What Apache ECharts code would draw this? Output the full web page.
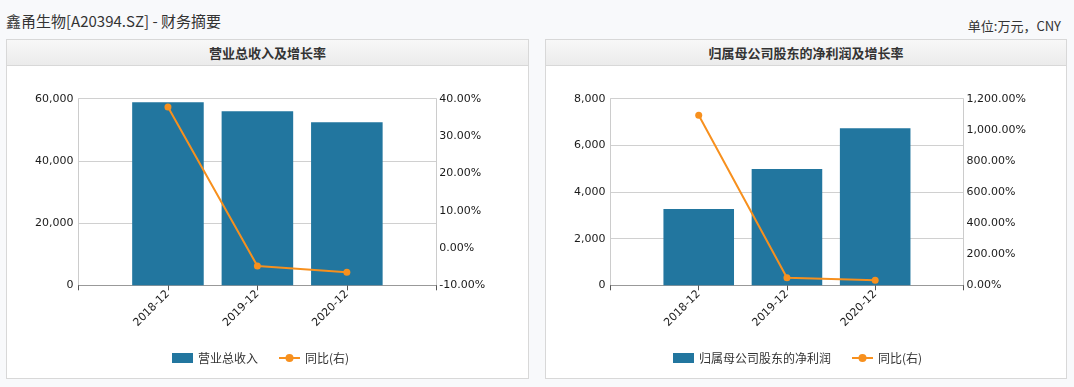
<!DOCTYPE html>
<html>
<head>
<meta charset="utf-8">
<script src="https://cdn.jsdelivr.net/npm/echarts@6/dist/echarts.min.js"></script>
<style>
  html, body { margin:0; padding:0; width:1074px; height:387px; background:#f8f9fb; overflow:hidden;
    font-family: "Noto Sans CJK SC", "DejaVu Sans", sans-serif; }
  #title { position:absolute; left:6px; top:10px; font-size:15px; color:#333; line-height:22px; white-space:nowrap; }
  #unit { position:absolute; right:13px; top:16px; font-size:13px; color:#333; line-height:20px; white-space:nowrap; }
  .panel { position:absolute; top:39px; height:340px; background:#fff; border:1px solid #d8d8d8; box-sizing:border-box; }
  .phead { position:absolute; left:0; top:0; right:0; height:25px; border-bottom:1px solid #d8d8d8;
    background:linear-gradient(#f8f8f8, #ebebeb); text-align:center; font-size:13px; font-weight:bold; color:#333; line-height:25px; }
  .chart { position:absolute; }
</style>
</head>
<body>
<div id="title">鑫甬生物[A20394.SZ] - 财务摘要</div>
<div id="unit">单位:万元，CNY</div>
<div class="panel" style="left:6px;width:523px;"><div class="phead">营业总收入及增长率</div></div>
<div class="panel" style="left:545px;width:522px;"><div class="phead">归属母公司股东的净利润及增长率</div></div>
<div id="c1" class="chart" style="left:7px;top:65px;width:521px;height:314px;"></div>
<div id="c2" class="chart" style="left:546px;top:65px;width:520px;height:314px;"></div>
<script>
const categories = ['2018-12', '2019-12', '2020-12'];
const revenue = [58870, 55980, 52440];
const revenueYoY = [37.8, -4.8, -6.5];
const netProfit = [3268, 4981, 6737];
const netProfitYoY = [1094, 48.8, 32];

const leftTicks = { rev: [0, 60000, 20000], np: [0, 8000, 2000] };
const rightTicks = { rev: [-10, 40, 10], np: [0, 1200, 200] };

const BAR = '#22769f';
const LINE = '#f7901e';

function pad(arr, fill) { return [fill].concat(arr, [fill]); }

function build(el, barName, barData, yoyData, lt, rt, grid, legendLeft) {
  const chart = echarts.init(document.getElementById(el), null, { renderer: 'canvas' });
  const axisLabel = { color: '#1a1a1a', fontSize: 11, fontFamily: 'DejaVu Sans' };
  chart.setOption({
    animation: false,
    grid: grid,
    legend: {
      left: legendLeft, top: 282, itemWidth: 21, itemHeight: 10, itemGap: 20,
      textStyle: { color: '#333', fontSize: 12, fontFamily: 'Noto Sans CJK SC' },
      data: [{ name: barName, icon: 'rect' }, { name: '同比(右)' }]
    },
    xAxis: {
      type: 'category', boundaryGap: false, data: pad(categories, ''),
      axisLine: { lineStyle: { color: '#999' } },
      axisTick: { show: true, length: 5, lineStyle: { color: '#555' }, alignWithLabel: true },
      axisLabel: Object.assign({ rotate: 45, margin: 7, interval: 0 }, axisLabel),
      splitLine: { show: false }
    },
    yAxis: [
      {
        type: 'value', min: lt[0], max: lt[1], interval: lt[2],
        axisLine: { show: true, lineStyle: { color: '#ccc' } },
        axisTick: { show: false },
        axisLabel: Object.assign({ margin: 5, formatter: v => v.toLocaleString('en-US') }, axisLabel),
        splitLine: { show: true, lineStyle: { color: '#d0d0d0' } }
      },
      {
        type: 'value', min: rt[0], max: rt[1], interval: rt[2],
        axisLine: { show: true, lineStyle: { color: '#ccc' } },
        axisTick: { show: false },
        axisLabel: Object.assign({ margin: 3, formatter: v => v.toLocaleString('en-US', { minimumFractionDigits: 2, maximumFractionDigits: 2 }) + '%' }, axisLabel),
        splitLine: { show: false }
      }
    ],
    series: [
      {
        name: barName, type: 'bar', data: pad(barData, null), barWidth: '80%',
        itemStyle: { color: BAR }, yAxisIndex: 0
      },
      {
        name: '同比(右)', type: 'line', data: pad(yoyData, null), yAxisIndex: 1,
        symbol: 'circle', symbolSize: 7, connectNulls: false,
        lineStyle: { color: LINE, width: 2 }, itemStyle: { color: LINE }
      }
    ]
  });
}

build('c1', '营业总收入', revenue, revenueYoY, leftTicks.rev, rightTicks.rev,
  { left: 71.5, right: 91.7, top: 33.7, bottom: 93.7 }, 160);
build('c2', '归属母公司股东的净利润', netProfit, netProfitYoY, leftTicks.np, rightTicks.np,
  { left: 64.5, right: 102.6, top: 33.7, bottom: 93.7 }, 122);
</script>
</body>
</html>
